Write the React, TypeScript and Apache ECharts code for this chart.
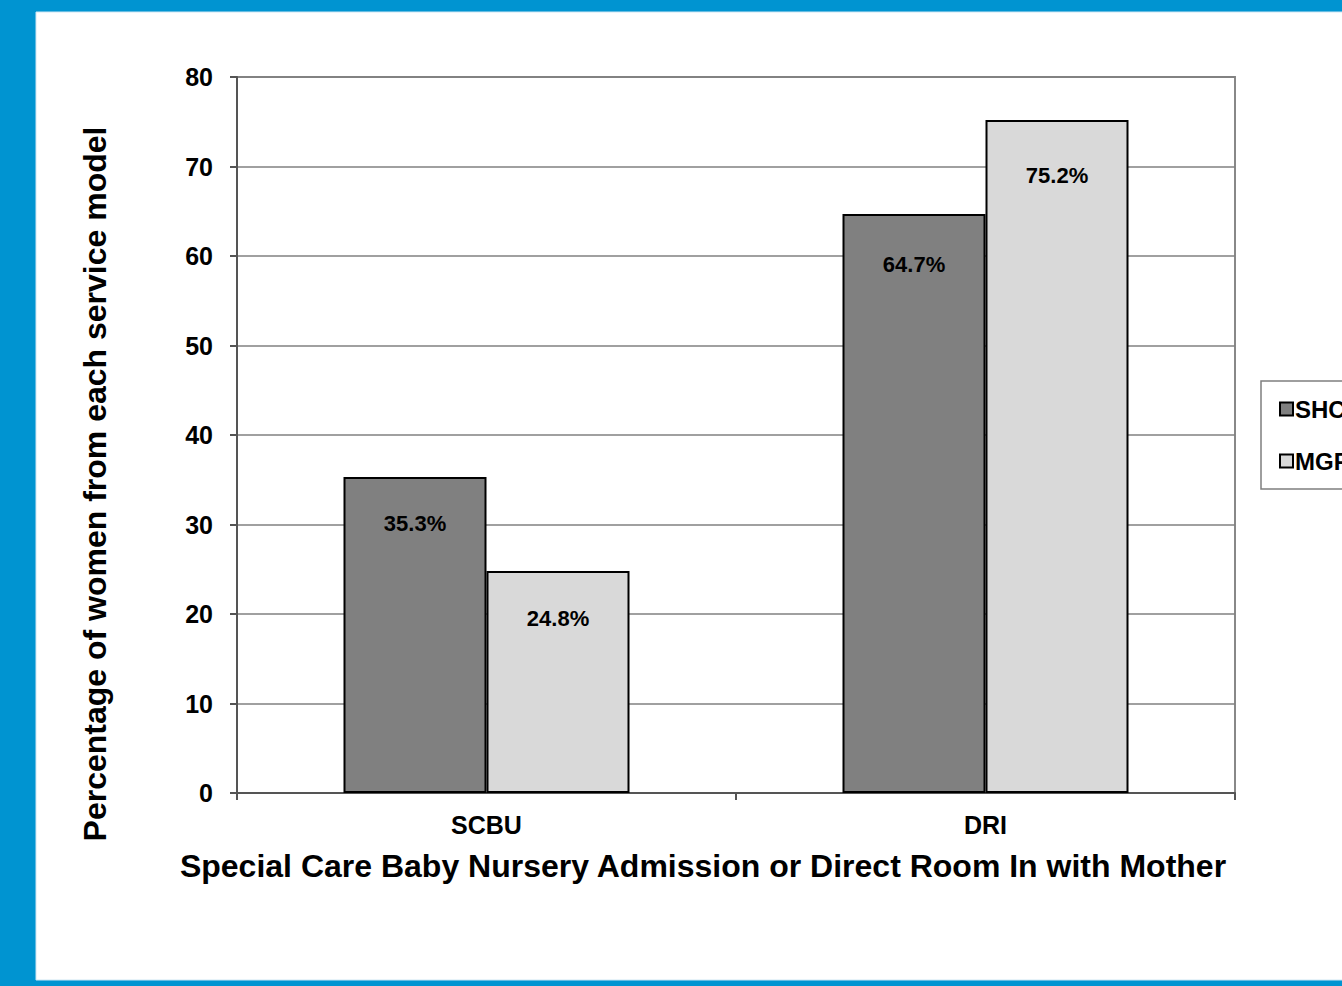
import React, { useEffect, useRef } from "react";
import * as echarts from "echarts";

// Categories and series values (percentage of women from each service model)
const categories = ["SCBU", "DRI"];
const seriesNames = ["SHC", "MGP"];
const shcValues = [35.3, 64.7];
const mgpValues = [24.8, 75.2];
const yTicks = { min: 0, max: 80, interval: 10 };

const xTitle = "Special Care Baby Nursery Admission or Direct Room In with Mother";
const yTitle = "Percentage of women from each service model";

const FONT = '"Liberation Sans", Arial, Helvetica, sans-serif';
const BLUE = "#0094D1";

// distance from bar top down to its value label, per bar
const shcLabelInset = [35, 40];
const mgpLabelInset = [36, 45];

export default function App() {
  const ref = useRef<HTMLDivElement>(null);

  useEffect(() => {
    if (!ref.current) return;
    const chart = echarts.init(ref.current, null, { renderer: "svg" });

    const labelBase = {
      show: true,
      position: "insideTop",
      color: "#000",
      fontFamily: FONT,
      fontWeight: "bold",
      fontSize: 22,
      formatter: (p: any) => `${p.value}%`,
    };

    const makeData = (vals: number[], insets: number[]) =>
      vals.map((v, i) => ({ value: v, label: { distance: insets[i] } }));

    const titleStyle = {
      fill: "#000",
      fontFamily: FONT,
      fontWeight: "bold",
      fontSize: 32,
      align: "center",
      verticalAlign: "middle",
    };

    chart.setOption({
      animation: false,
      backgroundColor: BLUE,
      textStyle: { fontFamily: FONT },
      graphic: [
        {
          type: "rect",
          z: -10,
          shape: { x: 36, y: 12, width: 1400, height: 968 },
          style: { fill: "#fff", stroke: "#cfe6f3", lineWidth: 1 },
          silent: true,
        },
        {
          type: "text",
          x: 703,
          y: 866,
          style: { ...titleStyle, text: xTitle },
          silent: true,
        },
        {
          type: "text",
          x: 95,
          y: 484,
          rotation: Math.PI / 2,
          style: { ...titleStyle, text: yTitle },
          silent: true,
        },
      ],
      grid: {
        left: 237,
        top: 77,
        width: 998,
        height: 716,
        show: true,
        borderColor: "#888",
        borderWidth: 2,
        backgroundColor: "transparent",
      },
      legend: {
        orient: "vertical",
        left: 1261,
        top: 381,
        padding: [16, 80, 16, 18],
        itemGap: 28,
        itemWidth: 13,
        itemHeight: 13,
        borderColor: "#7f7f7f",
        borderWidth: 1.5,
        backgroundColor: "#fff",
        icon: "rect",
        textStyle: {
          fontFamily: FONT,
          fontWeight: "bold",
          fontSize: 24,
          color: "#000",
          padding: [0, 0, 0, -3],
        },
        data: seriesNames,
      },
      xAxis: {
        type: "category",
        data: categories,
        axisLine: { lineStyle: { color: "#555", width: 2 } },
        axisTick: { show: true, length: 7, lineStyle: { color: "#555", width: 2 } },
        axisLabel: {
          margin: 19,
          fontFamily: FONT,
          fontWeight: "bold",
          fontSize: 25,
          color: "#000",
        },
      },
      yAxis: {
        type: "value",
        min: yTicks.min,
        max: yTicks.max,
        interval: yTicks.interval,
        axisLine: { show: true, lineStyle: { color: "#555", width: 2 } },
        axisTick: { show: true, length: 7, lineStyle: { color: "#555", width: 2 } },
        axisLabel: {
          margin: 24,
          fontFamily: FONT,
          fontWeight: "bold",
          fontSize: 25,
          color: "#000",
        },
        splitLine: { show: true, lineStyle: { color: "#808080", width: 1.5 } },
      },
      series: [
        {
          name: seriesNames[0],
          type: "bar",
          data: makeData(shcValues, shcLabelInset),
          barWidth: 143,
          barGap: "0%",
          itemStyle: { color: "#808080", borderColor: "#000", borderWidth: 2 },
          label: labelBase,
        },
        {
          name: seriesNames[1],
          type: "bar",
          data: makeData(mgpValues, mgpLabelInset),
          barWidth: 143,
          barGap: "0%",
          itemStyle: { color: "#D9D9D9", borderColor: "#000", borderWidth: 2 },
          label: labelBase,
        },
      ],
    });

    return () => chart.dispose();
  }, []);

  return (
    <div
      style={{
        position: "fixed",
        left: 0,
        top: 0,
        width: 1342,
        height: 986,
        overflow: "hidden",
      }}
    >
      <div ref={ref} style={{ width: 1342, height: 986 }} />
    </div>
  );
}
